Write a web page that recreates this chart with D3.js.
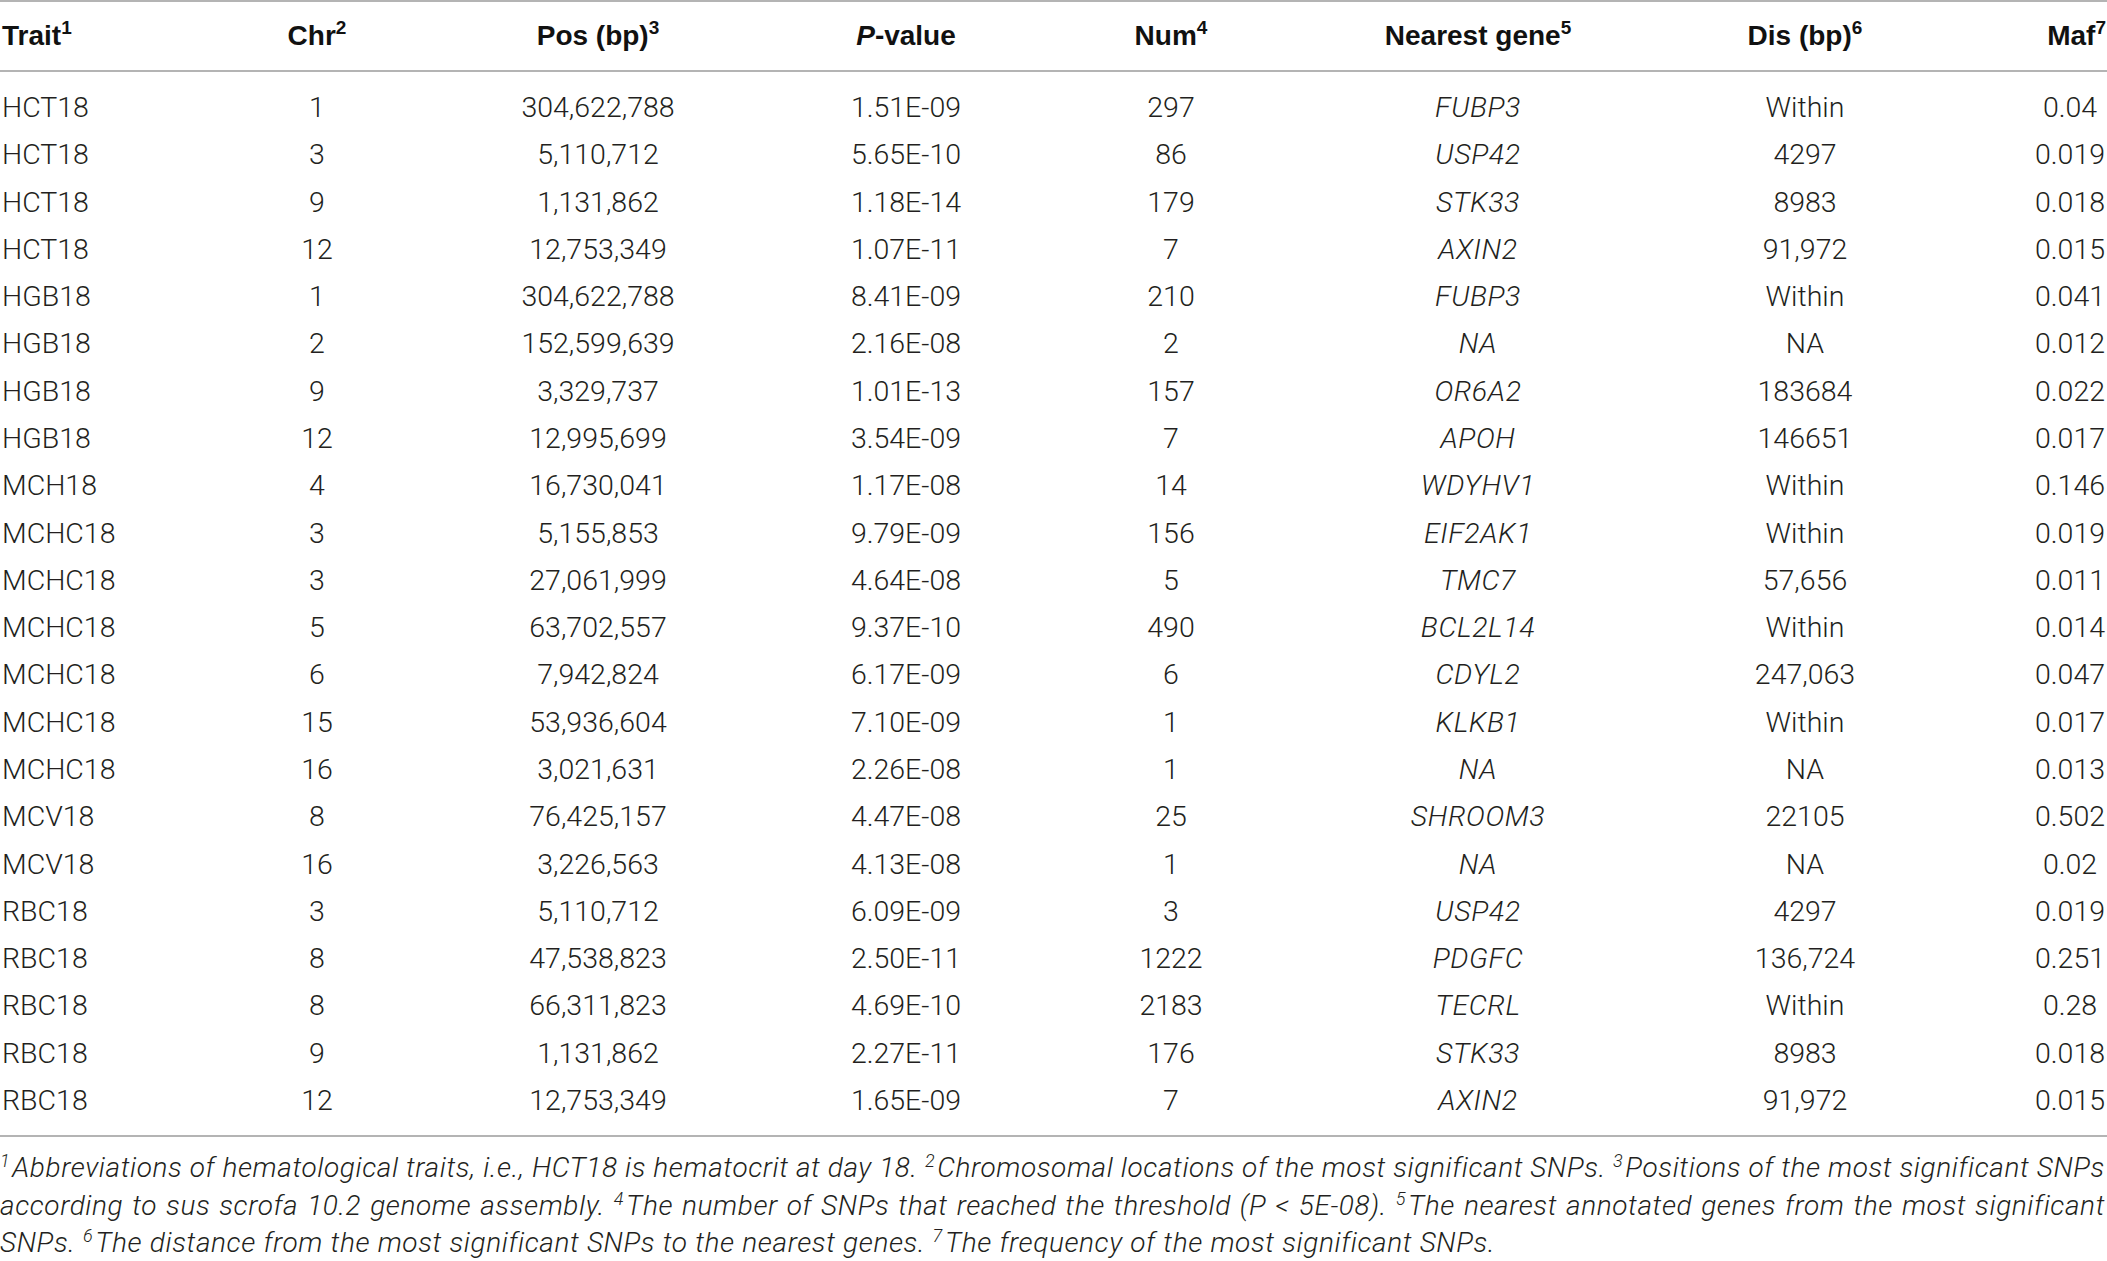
<!DOCTYPE html>
<html>
<head>
<meta charset="utf-8">
<script src="https://cdn.jsdelivr.net/npm/d3@7"></script>
<style>
  html, body { margin: 0; padding: 0; background: #fff; }
  svg { display: block; }
</style>
</head>
<body>
<script>
// ---------------- DATA ----------------
const traits = ["HCT18","HCT18","HCT18","HCT18","HGB18","HGB18","HGB18","HGB18","MCH18","MCHC18","MCHC18","MCHC18","MCHC18","MCHC18","MCHC18","MCV18","MCV18","RBC18","RBC18","RBC18","RBC18","RBC18"];
const chrs = ["1","3","9","12","1","2","9","12","4","3","3","5","6","15","16","8","16","3","8","8","9","12"];
const positions = ["304,622,788","5,110,712","1,131,862","12,753,349","304,622,788","152,599,639","3,329,737","12,995,699","16,730,041","5,155,853","27,061,999","63,702,557","7,942,824","53,936,604","3,021,631","76,425,157","3,226,563","5,110,712","47,538,823","66,311,823","1,131,862","12,753,349"];
const pvalues = ["1.51E-09","5.65E-10","1.18E-14","1.07E-11","8.41E-09","2.16E-08","1.01E-13","3.54E-09","1.17E-08","9.79E-09","4.64E-08","9.37E-10","6.17E-09","7.10E-09","2.26E-08","4.47E-08","4.13E-08","6.09E-09","2.50E-11","4.69E-10","2.27E-11","1.65E-09"];
const nums = ["297","86","179","7","210","2","157","7","14","156","5","490","6","1","1","25","1","3","1222","2183","176","7"];
const genes = ["FUBP3","USP42","STK33","AXIN2","FUBP3","NA","OR6A2","APOH","WDYHV1","EIF2AK1","TMC7","BCL2L14","CDYL2","KLKB1","NA","SHROOM3","NA","USP42","PDGFC","TECRL","STK33","AXIN2"];
const dists = ["Within","4297","8983","91,972","Within","NA","183684","146651","Within","Within","57,656","Within","247,063","Within","NA","22105","NA","4297","136,724","Within","8983","91,972"];
const mafs = ["0.04","0.019","0.018","0.015","0.041","0.012","0.022","0.017","0.146","0.019","0.011","0.014","0.047","0.017","0.013","0.502","0.02","0.019","0.251","0.28","0.018","0.015"];

const columnKeys = ["trait","chr","pos","p","num","gene","dis","maf"];
const headerLabels = [
  {pre:"", main:"Trait", sup:"1"},
  {pre:"", main:"Chr", sup:"2"},
  {pre:"", main:"Pos (bp)", sup:"3"},
  {pre:"P", main:"-value", sup:""},
  {pre:"", main:"Num", sup:"4"},
  {pre:"", main:"Nearest gene", sup:"5"},
  {pre:"", main:"Dis (bp)", sup:"6"},
  {pre:"", main:"Maf", sup:"7"}
];
const footnoteLines = [
  "^1Abbreviations of hematological traits, i.e., HCT18 is hematocrit at day 18. ^2Chromosomal locations of the most significant SNPs. ^3Positions of the most significant SNPs",
  "according to sus scrofa 10.2 genome assembly. ^4The number of SNPs that reached the threshold (P < 5E-08). ^5The nearest annotated genes from the most significant",
  "SNPs. ^6The distance from the most significant SNPs to the nearest genes. ^7The frequency of the most significant SNPs."
];
const footnoteJustify = [true, true, false];

// ---------------- LAYOUT ----------------
const W = 2107, H = 1261;
const bodyFont = "Roboto, 'Liberation Sans', Arial, sans-serif";
const headFont = "'Liberation Sans', Arial, sans-serif";
const textColor = "#231f20";
const ruleColor = "#b4b4b4";

const svg = d3.select("body").append("svg").attr("width", W).attr("height", H);

const rows = traits.map((t, i) => ({
  trait: t, chr: chrs[i], pos: positions[i], p: pvalues[i], num: nums[i],
  gene: genes[i], dis: dists[i], maf: mafs[i]
}));

const x = d3.scaleOrdinal().domain(columnKeys).range([2, 317, 598, 906, 1171, 1478, 1805, 2070]);
const anchor = d3.scaleOrdinal().domain(columnKeys).range(["start","middle","middle","middle","middle","middle","middle","middle"]);
const y = d3.scalePoint().domain(d3.range(rows.length)).range([117, 1110]);

// rules
const rules = [1, 71, 1136];
svg.selectAll("line.rule").data(rules).join("line")
  .attr("class","rule")
  .attr("x1", 0).attr("x2", W)
  .attr("y1", d => d).attr("y2", d => d)
  .attr("stroke", ruleColor).attr("stroke-width", 2);

// header
const headerY = 45;
const hdr = svg.selectAll("text.hdr").data(columnKeys).join("text")
  .attr("class","hdr")
  .attr("x", d => d === "maf" ? 2106 : x(d))
  .attr("y", headerY)
  .attr("text-anchor", d => d === "maf" ? "end" : anchor(d))
  .attr("font-family", headFont)
  .attr("font-weight", "bold")
  .attr("font-size", 28)
  .attr("fill", "#111");
hdr.each(function(d, i) {
  const lab = headerLabels[i];
  const t = d3.select(this);
  if (lab.pre) t.append("tspan").attr("font-style","italic").text(lab.pre);
  t.append("tspan").text(lab.main);
  if (lab.sup) t.append("tspan").attr("font-size", 19).attr("dy", -11).text(lab.sup);
});

// body cells
const cellG = svg.append("g");
rows.forEach((r, i) => {
  cellG.selectAll(null).data(columnKeys).join("text")
    .attr("x", k => x(k))
    .attr("y", y(i))
    .attr("text-anchor", k => anchor(k))
    .attr("font-family", bodyFont)
    .attr("font-weight", 300)
    .attr("font-style", k => k === "gene" ? "italic" : "normal")
    .attr("font-size", 28.5)
    .attr("letter-spacing", k => k === "gene" ? 0.6 : 0)
    .attr("fill", textColor)
    .text(k => r[k]);
});

// footnotes
const fnY = d3.scalePoint().domain(d3.range(footnoteLines.length)).range([1177, 1252]);
const fnSize = 28;
const fnLS = 0.6;
const fnG = svg.append("g");
footnoteLines.forEach((line, li) => {
  const words = line.split(" ");
  const nodes = words.map(w => {
    const t = fnG.append("text")
      .attr("y", fnY(li))
      .attr("font-family", bodyFont)
      .attr("font-weight", 300)
      .attr("font-style", "italic")
      .attr("font-size", fnSize)
      .attr("letter-spacing", fnLS)
      .attr("fill", textColor);
    const m = w.match(/^\^(\d)(.*)$/);
    if (m) {
      t.append("tspan").attr("font-size", 18).attr("dy", -10).text(m[1]);
      t.append("tspan").attr("dy", 10).attr("dx", 2).text(m[2]);
    } else {
      t.text(w);
    }
    return t;
  });
  const widths = nodes.map(n => n.node().getComputedTextLength() + (n.selectAll("tspan").size() ? 2 : 0));
  const total = d3.sum(widths);
  const gap = footnoteJustify[li] ? (2105 - total) / (words.length - 1) : fnSize * 0.27;
  let cx = 0;
  nodes.forEach((n, k) => {
    n.attr("x", cx);
    cx += widths[k] + gap;
  });
});
</script>
</body>
</html>
